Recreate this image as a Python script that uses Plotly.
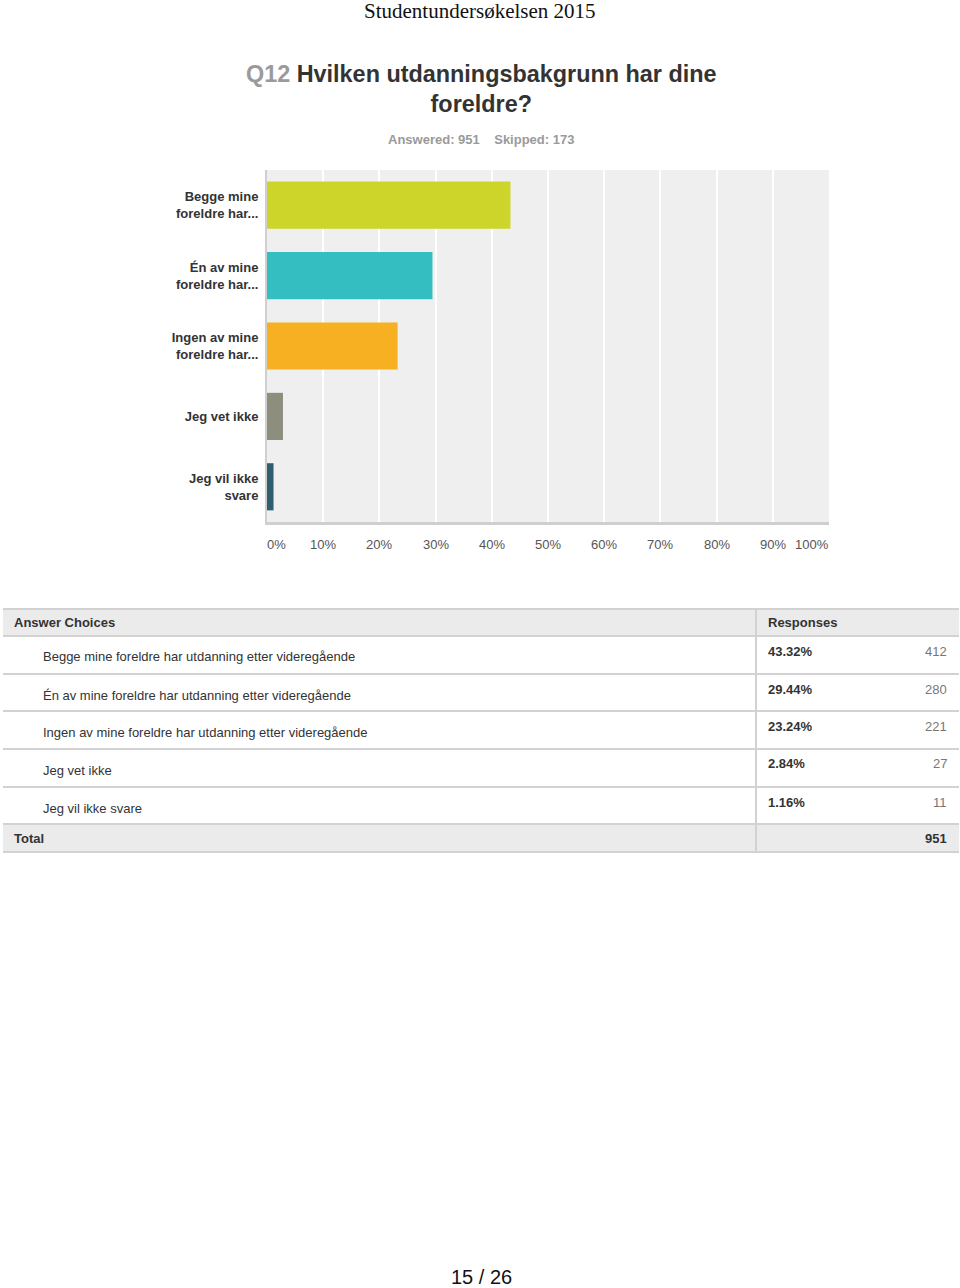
import plotly.graph_objects as go

# ---------------- data ----------------
page_title = "Studentundersøkelsen 2015"
q_number = "Q12"
q_text = "Hvilken utdanningsbakgrunn har dine<br>foreldre?"
answered = 951
skipped = 173

short_labels = ["Begge mine<br>foreldre har...", "Én av mine<br>foreldre har...",
                "Ingen av mine<br>foreldre har...", "Jeg vet ikke", "Jeg vil ikke<br>svare"]
full_labels = ["Begge mine foreldre har utdanning etter videregående",
               "Én av mine foreldre har utdanning etter videregående",
               "Ingen av mine foreldre har utdanning etter videregående",
               "Jeg vet ikke",
               "Jeg vil ikke svare"]
percents = [43.32, 29.44, 23.24, 2.84, 1.16]
counts = [412, 280, 221, 27, 11]
total = 951
bar_colors = ["#cdd52a", "#35bec1", "#f6b021", "#8e8e7e", "#2f5e6e"]
x_ticks = [0, 10, 20, 30, 40, 50, 60, 70, 80, 90, 100]
x_tick_labels = ["0%", "10%", "20%", "30%", "40%", "50%", "60%", "70%", "80%", "90%", "100%"]
page_label = "15 / 26"

# ---------------- layout helpers ----------------
W, H = 960, 1288
def px(x):
    return x / W
def py(y):
    return 1 - y / H

SANS = "Liberation Sans, Arial, sans-serif"
plot_left, plot_right, plot_top, plot_bottom = 267, 829, 170, 522

fig = go.Figure()
fig.add_trace(go.Bar(
    x=percents, y=short_labels, orientation="h",
    marker=dict(color=bar_colors, line=dict(width=0)),
    width=0.67, hoverinfo="skip",
))

fig.update_layout(
    width=W, height=H, margin=dict(l=0, r=0, t=0, b=0),
    paper_bgcolor="white", plot_bgcolor="#efefef",
    showlegend=False, bargap=0.33,
    font=dict(family=SANS, color="#333"),
    xaxis=dict(domain=[px(plot_left), px(plot_right)], range=[0, 100],
               tickvals=x_ticks, showticklabels=False, showgrid=True,
               gridcolor="white", gridwidth=2, zeroline=False,
               showline=True, linecolor="#cfcfcf", linewidth=3, fixedrange=True),
    yaxis=dict(domain=[py(plot_bottom), py(plot_top)], autorange="reversed",
               categoryorder="array", categoryarray=short_labels,
               tickvals=short_labels,
               ticktext=["<b>" + s + "</b>" for s in short_labels],
               tickfont=dict(size=13, color="#333", family=SANS),
               showgrid=False, zeroline=False, showline=True,
               linecolor="#cfcfcf", linewidth=2, ticks="", ticklabelstandoff=4),
)

ann = []
def A(**kw):
    kw.setdefault("showarrow", False)
    kw.setdefault("borderpad", 0)
    kw.setdefault("borderwidth", 0)
    kw.setdefault("yanchor", "middle")
    ann.append(kw)

# page header
A(x=0.5, y=py(11), xref="paper", yref="paper", text=page_title,
  font=dict(family="Liberation Serif, Times New Roman, serif", size=21, color="#111"))
# question title
A(x=px(481), y=py(89), xref="paper", yref="paper",
  text=f"<b><span style='color:#9a9a9a'>{q_number}</span> {q_text}</b>",
  align="center", font=dict(family=SANS, size=23.4, color="#333"))
A(x=px(481), y=py(139), xref="paper", yref="paper",
  text=f"<b>Answered: {answered}&nbsp;&nbsp;&nbsp;&nbsp;Skipped: {skipped}</b>",
  font=dict(family=SANS, size=13, color="#9a9a9a"))
# x tick labels
for v, t in zip(x_ticks, x_tick_labels):
    anchor = "left" if v == 0 else ("right" if v == 100 else "center")
    A(x=v, y=py(544), xref="x", yref="paper", text=t, xanchor=anchor,
      font=dict(family=SANS, size=13, color="#555"))

# ---------------- table ----------------
shapes = []
tbl_left, tbl_right, col_div = 3, 959, 756
line_col = "#d2d2d2"
header_top, header_bot = 609, 636
row_edges = [636, 674, 711, 749, 787, 824]
total_bot = 852

shapes.append(dict(type="rect", xref="paper", yref="paper", x0=px(tbl_left), x1=px(tbl_right),
                   y0=py(header_bot), y1=py(header_top), fillcolor="#ebebeb", line=dict(width=0), layer="below"))
shapes.append(dict(type="rect", xref="paper", yref="paper", x0=px(tbl_left), x1=px(tbl_right),
                   y0=py(total_bot), y1=py(row_edges[-1]), fillcolor="#ebebeb", line=dict(width=0), layer="below"))
for yy in [header_top] + row_edges + [total_bot]:
    shapes.append(dict(type="line", xref="paper", yref="paper", x0=px(tbl_left), x1=px(tbl_right),
                       y0=py(yy), y1=py(yy), line=dict(color=line_col, width=2)))
shapes.append(dict(type="line", xref="paper", yref="paper", x0=px(col_div), x1=px(col_div),
                   y0=py(header_top), y1=py(total_bot), line=dict(color=line_col, width=2)))

A(x=px(14), y=py(622), xref="paper", yref="paper", text="<b>Answer Choices</b>",
  xanchor="left", font=dict(size=13, color="#333"))
A(x=px(768), y=py(622), xref="paper", yref="paper", text="<b>Responses</b>",
  xanchor="left", font=dict(size=13, color="#333"))
for i, (lab, p, c) in enumerate(zip(full_labels, percents, counts)):
    top = row_edges[i]
    A(x=px(43), y=py(top + 21), xref="paper", yref="paper", text=lab,
      xanchor="left", font=dict(size=13, color="#333"))
    A(x=px(768), y=py(top + 15), xref="paper", yref="paper", text=f"<b>{p:.2f}%</b>",
      xanchor="left", font=dict(size=13, color="#333"))
    A(x=px(947), y=py(top + 15), xref="paper", yref="paper", text=str(c),
      xanchor="right", font=dict(size=13, color="#777"))
A(x=px(14), y=py(838), xref="paper", yref="paper", text="<b>Total</b>",
  xanchor="left", font=dict(size=13, color="#333"))
A(x=px(947), y=py(838), xref="paper", yref="paper", text=f"<b>{total}</b>",
  xanchor="right", font=dict(size=13, color="#333"))

# footer
A(x=px(481), y=py(1277), xref="paper", yref="paper", text=page_label,
  font=dict(size=20, color="#111"))

fig.update_layout(annotations=ann, shapes=shapes)
fig.write_html("out.html")
